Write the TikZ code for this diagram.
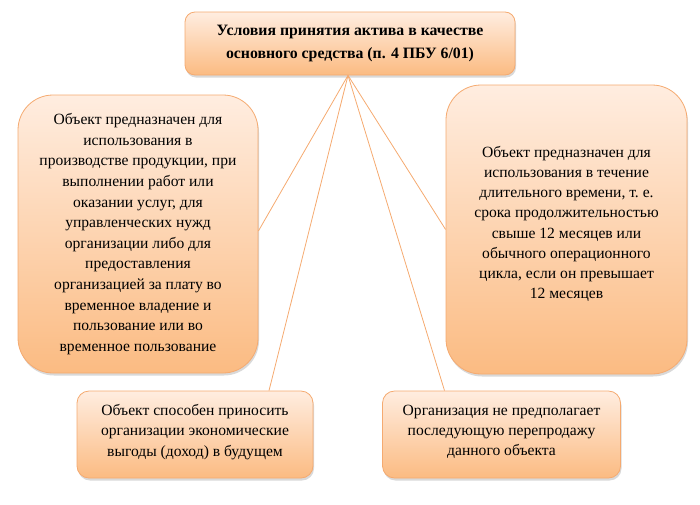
\documentclass[tikz,border=0pt]{standalone}
\usepackage{fontspec}
\setmainfont{Liberation Serif}
\usetikzlibrary{shadows}
\definecolor{boxtop}{HTML}{FFEDE0}
\definecolor{boxbot}{HTML}{FBBB82}
\definecolor{boxline}{HTML}{F5AA70}
\begin{document}
\begin{tikzpicture}[x=1pt, y=-1pt,
        card/.style={rectangle, draw=boxline, line width=0.8pt, top color=boxtop, bottom color=boxbot, align=center, inner sep=0pt, font=\fontsize{15.6}{20.6}\selectfont, drop shadow={shadow xshift=1pt, shadow yshift=-2.5pt, opacity=0.3}},
        link/.style={draw=boxline, line width=0.8pt}
    ]
        \useasboundingbox (0,0) rectangle (700,504);

        \node[card, rounded corners=10pt, minimum width=330pt, minimum height=63pt, font=\bfseries\fontsize{15.8}{22.5}\selectfont] (cond) at (350,43.5) {Условия принятия актива в качестве\\основного средства (п. 4 ПБУ 6/01)};
        \node[card, rounded corners=35pt, minimum width=240pt, minimum height=278pt] (purpose) at (138,234) {Объект предназначен для\\использования в\\производстве продукции, при\\выполнении работ или\\оказании услуг, для\\управленческих нужд\\организации либо для\\предоставления\\организацией за плату во\\временное владение и\\пользование или во\\временное пользование};
        \node[card, rounded corners=35pt, minimum width=241pt, minimum height=289pt, font=\fontsize{15.6}{20.2}\selectfont] (term) at (566.5,229.5) {Объект предназначен для\\использования в течение\\длительного времени, т.~е.\\срока продолжительностью\\свыше 12 месяцев или\\обычного операционного\\цикла, если он превышает\\12 месяцев\\[-6pt]};
        \node[card, rounded corners=12pt, minimum width=236pt, minimum height=87pt, font=\fontsize{15.6}{20.2}\selectfont] (benefit) at (195,434.5) {Объект способен приносить\\организации экономические\\выгоды (доход) в будущем\\[-12pt]};
        \node[card, rounded corners=12pt, minimum width=238pt, minimum height=87pt, font=\fontsize{15.6}{20.2}\selectfont] (resale) at (501.5,434.5) {Организация не предполагает\\последующую перепродажу\\данного объекта\\[-12pt]};

        \coordinate (hub) at ([xshift=-2pt]cond.south);
        \draw[link] (hub) -- ([yshift=3pt]purpose.east);
        \draw[link] (hub) -- (term.west);
        \draw[link] (hub) -- ([xshift=74pt]benefit.north);
        \draw[link] (hub) -- ([xshift=-57pt]resale.north);
    \end{tikzpicture}
\end{document}
